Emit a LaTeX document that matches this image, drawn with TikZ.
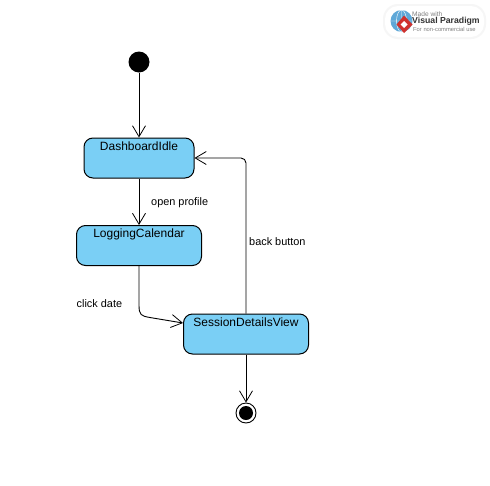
\documentclass[tikz,border=0pt]{standalone}
\usepackage{fontspec}
\setmainfont{Liberation Sans}
\usetikzlibrary{arrows.meta}
\definecolor{stateblue}{HTML}{7ACFF5}
\definecolor{badgegrey}{HTML}{F6F6F6}
\definecolor{globeblue}{HTML}{5FA8D8}
\definecolor{logored}{HTML}{D0312D}
\tikzset{
  statebox/.style={draw=black,fill=stateblue,line width=1pt,rounded corners=9pt,inner xsep=0pt,inner ysep=2pt,
    text height=10pt,text depth=26pt,font=\fontsize{12}{14}\selectfont},
  edgetext/.style={inner sep=0pt,font=\fontsize{10.9}{12}\selectfont},
  flow/.style={draw=black,line width=0.9pt,-{Straight Barb[length=11pt,width=13pt,line width=0.8pt]}},
  badgetext/.style={inner sep=0pt,anchor=west}
}
\begin{document}
\begin{tikzpicture}[x=1pt,y=-1pt]
\useasboundingbox (0,0) rectangle (490,485);
\fill[white] (0,0) rectangle (490,485);
% the badge
\fill[badgegrey,rounded corners=15pt] (383,4) rectangle (486,39);
\fill[white,rounded corners=13pt] (385,6) rectangle (484,37);
\fill[globeblue] (401.5,21) circle (11pt);
\draw[white,line width=0.4pt] (401.5,10) -- (401.5,32) (390.5,21) -- (412.5,21) (401.5,21) ellipse (5pt and 11pt);
\fill[logored] (404,15.5) -- (412.5,24.5) -- (404,33) -- (396.5,24.5) -- cycle;
\fill[white] (404,21) -- (407.5,24.5) -- (404,28) -- (400.5,24.5) -- cycle;
\node[badgetext,text=gray,font=\fontsize{6.6}{7}\selectfont] (madewith) at (412,14) {Made with};
\node[badgetext,text=black!80,font=\bfseries\fontsize{8.7}{10}\selectfont] (vpname) at (412,21) {Visual Paradigm};
\node[badgetext,text=gray,font=\fontsize{5.8}{7}\selectfont] (vpuse) at (413,29) {For non-commercial use};
% the states
\node[fill=black,circle,inner sep=0pt,minimum size=21pt] (start) at (139,62) {};
\node[statebox,minimum width=110pt] (dashboard) at (139,158) {DashboardIdle};
\node[statebox,minimum width=125pt] (logging) at (139,245.5) {LoggingCalendar};
\node[statebox,minimum width=125pt] (session) at (246,334) {SessionDetailsView};
\node[draw=black,fill=white,circle,inner sep=0pt,minimum size=20pt,line width=0.9pt] (finish) at (246,413) {};
\node[fill=black,circle,inner sep=0pt,minimum size=14pt] (finishdot) at (finish) {};
% the transitions
\draw[flow] (start) -- (dashboard);
\draw[flow] (dashboard) -- (logging);
\draw[flow] (logging.south) -- (139,305) .. controls (139,315) and (141,316) .. (150,317.5) -- (session.west |- 0,323);
\draw[flow,rounded corners=5pt] (session.north -| 246,0) -- (246,158) -- (dashboard.east);
\draw[flow] (session) -- (finish);
% the labels
\node[edgetext,anchor=west] (openprofile) at (151,203) {open profile};
\node[edgetext,anchor=west] (backbutton) at (249,241.5) {back button};
\node[edgetext,anchor=west] (clickdate) at (76.5,303.5) {click date};
\end{tikzpicture}
\end{document}
